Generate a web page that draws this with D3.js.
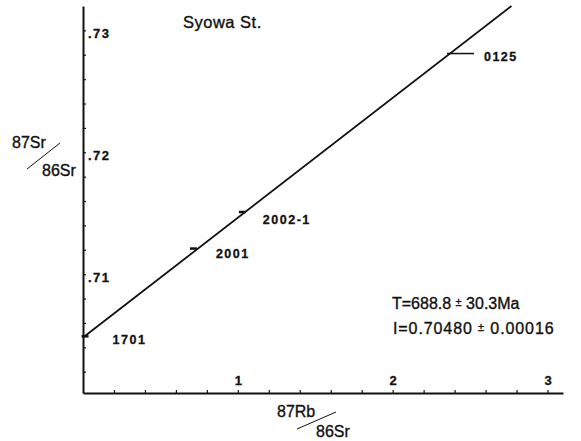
<!DOCTYPE html>
<html>
<head>
<meta charset="utf-8">
<script src="https://cdn.jsdelivr.net/npm/d3@7"></script>
<style>
  body { margin: 0; background: #fff; }
  text { font-family: "Liberation Sans", Arial, sans-serif; fill: #111; }
  .heavy { stroke: #111; stroke-width: 0.35px; }
  .bold { font-weight: bold; stroke: #111; stroke-width: 0.3px; }
</style>
</head>
<body>
<div id="chart"></div>
<script>
// sample data
const samples = ["1701", "2001", "2002-1", "0125"];
const rbSr = [0.01, 0.71, 1.026, 2.37];
const srSr = [0.7049, 0.7121, 0.7151, 0.7281];

const xTickValues = [0.2, 0.4, 0.6, 0.8, 1, 1.2, 1.4, 1.6, 1.8, 2, 2.2, 2.4, 2.6, 2.8, 3];
const xTickLabels = [1, 2, 3];
const yTickValues = [0.702, 0.704, 0.706, 0.708, 0.71, 0.712, 0.714, 0.716, 0.718, 0.72, 0.722, 0.724, 0.726, 0.728, 0.73];
const yTickLabels = [0.71, 0.72, 0.73];

// isochron fit
const intercept = 0.70480;
const slope = 0.00983;

const svg = d3.select("#chart")
    .append("svg")
        .attr("width", 581)
        .attr("height", 441);

const x = d3.scaleLinear()
    .domain([0, 3.1])
    .range([83, 563]);

const y = d3.scaleLinear()
    .domain([0.70025, 0.732])
    .range([393, 6]);

// y axis, ticks pointing inward
const yAxis = svg.append("g")
    .attr("transform", `translate(${x(0)}, 0)`)
    .call(d3.axisRight(y).tickValues(yTickValues).tickSize(3).tickSizeOuter(0).tickFormat(""));

// x axis, ticks pointing up
const xAxis = svg.append("g")
    .attr("transform", `translate(0, ${y(0.70025)})`)
    .call(d3.axisTop(x).tickValues(xTickValues).tickSize(3).tickSizeOuter(0).tickPadding(5)
        .tickFormat(d => xTickLabels.includes(d) ? d3.format("d")(d) : ""));

svg.selectAll(".domain").attr("stroke", "#111").attr("stroke-width", 2);
svg.selectAll(".tick line").attr("stroke", "#111").attr("stroke-width", 1.2);
xAxis.selectAll("text")
    .attr("class", "bold")
    .attr("font-size", "13px")
    .attr("fill", "#111")
    .attr("font-family", "Liberation Sans, Arial, sans-serif");

svg.selectAll(".ylab")
    .data(yTickLabels)
    .enter()
    .append("text")
        .attr("class", "bold")
        .attr("x", x(0) + 5)
        .attr("y", d => y(d) + 8)
        .attr("font-size", "13px")
        .attr("letter-spacing", "1.5px")
        .text(d => d3.format(".2f")(d).replace("0.", "."));

// isochron line from the intercept up to the top of the plot
const xEnd = (0.732 - intercept) / slope;
svg.append("line")
    .attr("x1", x(0))
    .attr("y1", y(intercept))
    .attr("x2", x(xEnd))
    .attr("y2", y(intercept + slope * xEnd))
    .attr("stroke", "#111")
    .attr("stroke-width", 1.8);

// sample marks
svg.selectAll(".mark")
    .data(samples)
    .enter()
    .append("line")
        .attr("x1", (d, i) => x(rbSr[i]) - 3)
        .attr("x2", (d, i) => x(rbSr[i]) + (d === "0125" ? 24 : 4))
        .attr("y1", (d, i) => y(srSr[i]))
        .attr("y2", (d, i) => y(srSr[i]))
        .attr("stroke", "#111")
        .attr("stroke-width", (d) => d === "0125" ? 1.5 : 2.5);

const labelOffset = {
    "1701": [28, 8],
    "2001": [23, 9],
    "2002-1": [21, 12],
    "0125": [34, 7]
};

svg.selectAll(".sample")
    .data(samples)
    .enter()
    .append("text")
        .attr("class", "bold")
        .attr("x", (d, i) => x(rbSr[i]) + labelOffset[d][0])
        .attr("y", (d, i) => y(srSr[i]) + labelOffset[d][1])
        .attr("font-size", "12.5px")
        .attr("letter-spacing", "1.5px")
        .text(d => d);

// title
svg.append("text")
    .attr("class", "heavy")
    .attr("x", 183)
    .attr("y", 28)
    .attr("font-size", "16.5px")
    .attr("letter-spacing", "0.5px")
    .text("Syowa St.");

// age and initial ratio
const tText = svg.append("text")
    .attr("class", "heavy")
    .attr("x", 392)
    .attr("y", 309)
    .attr("font-size", "16px");
tText.append("tspan").text("T=688.8 ");
tText.append("tspan").attr("font-size", "11px").attr("dy", "-3").text("±");
tText.append("tspan").attr("dy", "3").text(" 30.3Ma");

const iText = svg.append("text")
    .attr("class", "heavy")
    .attr("x", 393)
    .attr("y", 334)
    .attr("font-size", "16px")
    .attr("letter-spacing", "0.9px");
iText.append("tspan").text("I=0.70480 ");
iText.append("tspan").attr("font-size", "11px").attr("dy", "-3").text("±");
iText.append("tspan").attr("dy", "3").text(" 0.00016");

// axis titles, written as ratios with a slash
svg.append("text").attr("class", "heavy").attr("x", 12).attr("y", 148).attr("font-size", "16px").text("87Sr");
svg.append("line")
    .attr("x1", 27).attr("y1", 169).attr("x2", 60).attr("y2", 143)
    .attr("stroke", "#111").attr("stroke-width", 1);
svg.append("text").attr("class", "heavy").attr("x", 42).attr("y", 176).attr("font-size", "16px").text("86Sr");

svg.append("text").attr("class", "heavy").attr("x", 277).attr("y", 417).attr("font-size", "16px").text("87Rb");
svg.append("line")
    .attr("x1", 297).attr("y1", 429).attr("x2", 336).attr("y2", 412)
    .attr("stroke", "#111").attr("stroke-width", 1);
svg.append("text").attr("class", "heavy").attr("x", 316).attr("y", 437).attr("font-size", "16px").text("86Sr");
</script>
</body>
</html>
